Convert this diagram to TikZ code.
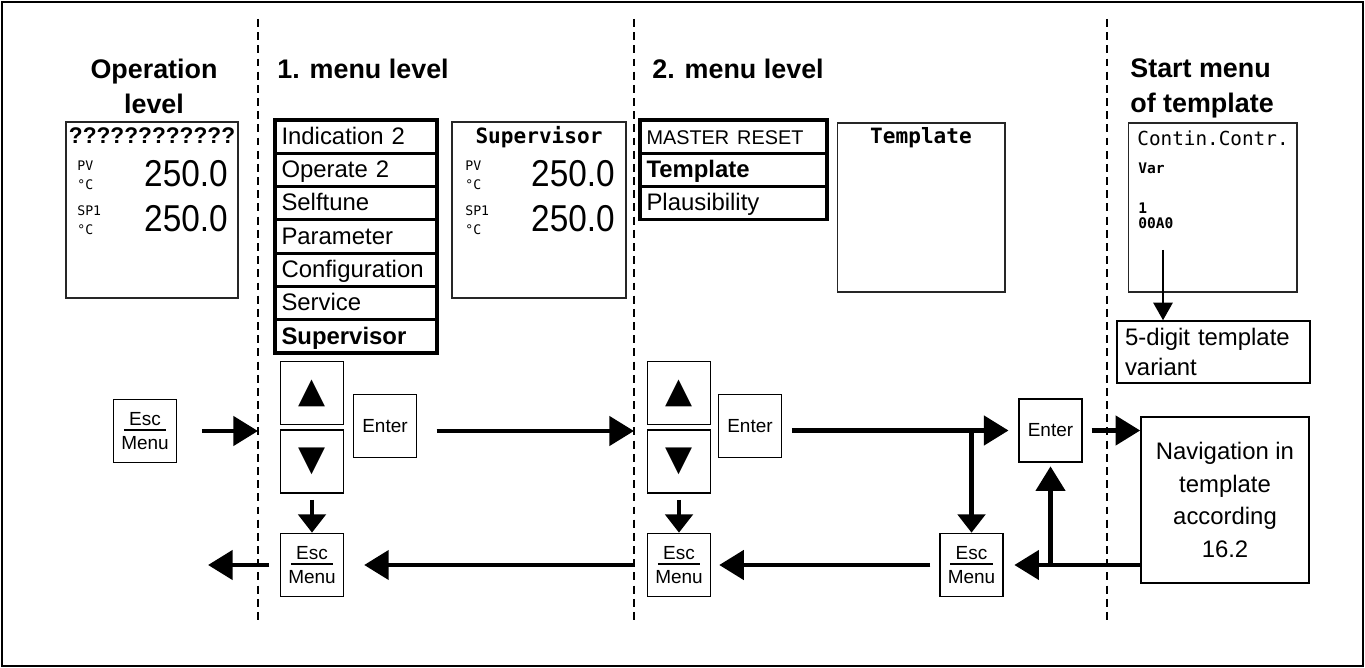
\documentclass[tikz,border=0pt]{standalone}
\usepackage{fontspec}
\setmainfont{Liberation Sans}
\newfontfamily\lcdfont{DejaVu Sans Mono}
\newfontfamily\symfont{DejaVu Sans}
\usetikzlibrary{arrows.meta,positioning}
\newcommand{\segnum}[1]{\scalebox{1}[1.12]{#1}}

\begin{document}
\begin{tikzpicture}[x=0.02cm, y=-0.02cm,
  head/.style={inner sep=0pt, font=\fontsize{15.3}{19.8}\selectfont\bfseries},
  display/.style={draw=black!85, line width=0.6pt, inner sep=0pt},
  lcdtitle/.style={inner sep=0pt, font=\lcdfont\fontsize{12}{14}\selectfont\bfseries},
  lcdsmall/.style={inner sep=0pt, anchor=west, font=\lcdfont\fontsize{8.3}{9}\selectfont\bfseries},
  pvlab/.style={inner sep=0pt, anchor=west, align=left, font=\lcdfont\fontsize{7.5}{10.5}\selectfont},
  lcdnum/.style={inner sep=0pt, font=\fontsize{19}{19}\selectfont},
  menurow/.style={draw, line width=1.8pt, minimum height=0.666cm, inner xsep=0.13cm, inner ysep=0pt,
    outer sep=0pt, align=left, text height=1.0em, text depth=0.12em, font=\fontsize{13.6}{16}\selectfont},
  menuA/.style={menurow, text width=2.98cm},
  menuB/.style={menurow, text width=3.48cm},
  btn/.style={draw, line width=0.9pt, minimum size=1.26cm, inner sep=0pt,
    align=center, font=\fontsize{10.8}{14}\selectfont},
  escbtn/.style={btn, path picture={\draw[line width=0.7pt]
    ([xshift=-12pt,yshift=0.6pt]path picture bounding box.center) -- ++(24pt,0);}},
  arrowbtn/.style={btn, font=\symfont\fontsize{20}{20}\selectfont},
  textbox/.style={draw, line width=0.9pt, font=\fontsize{13.6}{17}\selectfont},
  sep/.style={dashed, dash pattern=on 4.5pt off 3pt, line width=0.8pt},
  arr/.style={-{Triangle[length=14pt,width=16.4pt]}, line width=2.8pt},
  arrs/.style={-{Triangle[length=10.5pt,width=15.5pt]}, line width=2.8pt},
  thinarr/.style={-{Triangle[length=10pt,width=11pt]}, line width=1.1pt}
]
\useasboundingbox (0,0) rectangle (1365,668);
\draw[line width=0.6pt] (2,2) rectangle (1363,666);

% level separators
\foreach \x/\n in {258/sepA, 634/sepB, 1107/sepC} {
  \coordinate (\n) at (\x,19);
  \draw[sep] (\n) -- (\x,623);
}

% headings
\node[head, align=center, anchor=north] (hOp) at (154,58.5) {Operation\\level};
\node[head, anchor=north west] (hM1) at (277,58.5) {1. menu level};
\node[head, anchor=north west] (hM2) at (652,58.5) {2. menu level};
\node[head, align=left, anchor=north west] (hStart) at (1130,58.5) {Start menu\\of template};

% operation level display
\node[display, minimum width=3.44cm, minimum height=3.52cm] (opdisp) at (152,210) {};
\node[inner sep=0pt, font=\fontsize{12.9}{14}\selectfont\bfseries] (opTitle) at (152,136) {????????????};
\node[pvlab] (opPv) at (77,175.5) {PV\\°C};
\node[lcdnum] (opPvVal) at (186,173.5) {\segnum{250.0}};
\node[pvlab] (opSp) at (77,220) {SP1\\°C};
\node[lcdnum] (opSpVal) at (186,219) {\segnum{250.0}};

% 1. menu level
\node[menuA, anchor=north west] (m1a) at (275,120) {Indication 2};
\node[menuA, below=0pt of m1a] (m1b) {Operate 2};
\node[menuA, below=0pt of m1b] (m1c) {Selftune};
\node[menuA, below=0pt of m1c] (m1d) {Parameter};
\node[menuA, below=0pt of m1d] (m1e) {Configuration};
\node[menuA, below=0pt of m1e] (m1f) {Service};
\node[menuA, below=0pt of m1f] (m1g) {\bfseries Supervisor};

\node[display, minimum width=3.48cm, minimum height=3.52cm] (supdisp) at (539,210) {};
\node[lcdtitle] (supTitle) at (539,137) {Supervisor};
\node[pvlab] (supPv) at (465,175.5) {PV\\°C};
\node[lcdnum] (supPvVal) at (573,173.5) {\segnum{250.0}};
\node[pvlab] (supSp) at (465,220) {SP1\\°C};
\node[lcdnum] (supSpVal) at (573,219) {\segnum{250.0}};

% 2. menu level
\node[menuB, anchor=north west] (m2a) at (640,120) {\fontsize{11.3}{13}\selectfont MASTER RESET};
\node[menuB, below=0pt of m2a] (m2b) {\bfseries Template};
\node[menuB, below=0pt of m2b] (m2c) {Plausibility};

\node[display, minimum width=3.36cm, minimum height=3.38cm] (tmpldisp) at (921,207.5) {};
\node[lcdtitle] (tmplTitle) at (921,138) {Template};

% start menu of template
\node[display, minimum width=3.38cm, minimum height=3.38cm] (startdisp) at (1212.5,207.5) {};
\node[lcdtitle, font=\lcdfont\fontsize{11}{13}\selectfont] (startTitle) at (1213,138) {Contin.Contr.};
\node[lcdsmall] (startVar) at (1138,168) {Var};
\node[lcdsmall] (startOne) at (1138,208) {1};
\node[lcdsmall] (startCode) at (1138,223) {00A0};
\coordinate (varpt) at (1163,250);
\node[textbox, minimum width=3.86cm, minimum height=1.24cm, text width=3.54cm,
  inner xsep=0.16cm, align=left] (digits) at (1213.5,352) {5-digit template\\variant};
\node[textbox, minimum width=3.36cm, minimum height=3.32cm, align=center,
  font=\fontsize{13.6}{18.7}\selectfont] (nav) at (1225,500) {Navigation in\\template\\according\\16.2};

% keys
\node[escbtn] (escop) at (145,431) {Esc\\Menu};
\node[arrowbtn] (up1) at (312,393) {▲};
\node[arrowbtn] (down1) at (312,461.5) {▼};
\node[btn] (enter1) at (385,426) {Enter};
\node[escbtn] (esc1) at (312,565) {Esc\\Menu};

\node[arrowbtn] (up2) at (679,393) {▲};
\node[arrowbtn] (down2) at (679,461.5) {▼};
\node[btn] (enter2) at (750,426) {Enter};
\node[escbtn] (esc2) at (679,565) {Esc\\Menu};

\node[escbtn] (esc3) at (971.5,565) {Esc\\Menu};
\node[btn] (enter3) at (1050.5,430.5) {Enter};
\coordinate (exitL) at (208,565);

% connectors
\draw[arr, shorten <=14pt] (escop.east) -- (escop -| sepA);
\draw[arr, shorten <=11pt] (enter1.east |- escop) -- (escop -| sepB);
\draw[arr, shorten <=5.5pt, shorten >=5.5pt] (enter2.east |- enter3) -- (enter3.west);
\draw[arrs] (esc3 |- enter3) -- (esc3.north);
\draw[arr, shorten <=5pt] (enter3.east) -- (enter3.east -| nav.west);
\draw[arr, shorten >=6pt] (esc3 -| nav.west) -- (esc3.east);
\draw[arr, shorten >=2pt] (enter3 |- esc3) -- (enter3.south);
\draw[arr, shorten <=5pt, shorten >=4.5pt] (esc3.west) -- (esc2.east);
\draw[arr, shorten >=11.3pt] (esc1 -| sepB) -- (esc1.east);
\draw[arr, shorten <=6pt] (esc1.west) -- (exitL);
\draw[arrs, shorten <=3.4pt] (down1.south) -- (esc1.north);
\draw[arrs, shorten <=3.4pt] (down2.south) -- (esc2.north);
\draw[thinarr] (varpt) -- (varpt |- digits.north);
\end{tikzpicture}
\end{document}
